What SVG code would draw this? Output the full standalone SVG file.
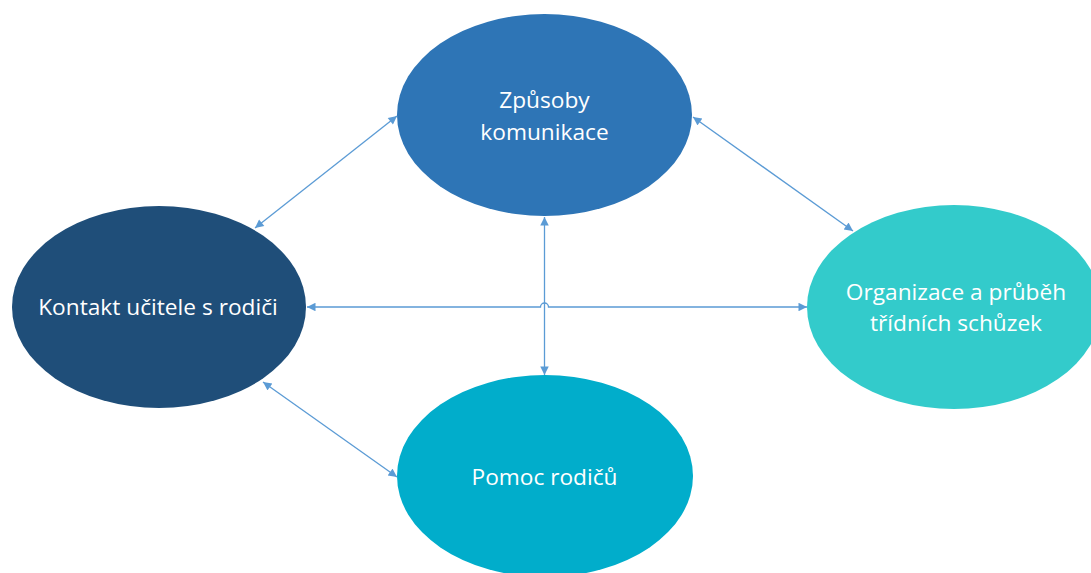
<svg xmlns="http://www.w3.org/2000/svg" width="1091" height="573" viewBox="0 0 1091 573">
<style>
.lbl{font-family:"Open Sans","Noto Sans","DejaVu Sans",sans-serif;font-size:22.7px;fill:#ffffff;text-anchor:middle}
.conn{fill:none;stroke:#5B9BD5;stroke-width:1.3}
</style>
<defs>
<marker id="ah" viewBox="0 0 10 10" refX="10" refY="5" markerWidth="10" markerHeight="8.5" markerUnits="userSpaceOnUse" orient="auto-start-reverse">
<path d="M0,0 L10,5 L0,10 z" fill="#5B9BD5"/>
</marker>
</defs>
<rect width="1091" height="573" fill="#ffffff"/>
<g id="n-top">
<ellipse cx="544.5" cy="115" rx="147.5" ry="101" fill="#2E75B6"/>
<text class="lbl" x="544.5" y="108">Způsoby</text>
<text class="lbl" x="544.5" y="140">komunikace</text>
</g>
<g id="n-left">
<ellipse cx="159" cy="307" rx="147" ry="101" fill="#1F4E79"/>
<text class="lbl" x="158" y="315">Kontakt učitele s rodiči</text>
</g>
<g id="n-right">
<ellipse cx="954" cy="307" rx="147" ry="102" fill="#33CBCB"/>
<text class="lbl" x="956" y="300">Organizace a průběh</text>
<text class="lbl" x="956" y="331">třídních schůzek</text>
</g>
<g id="n-bottom">
<ellipse cx="545" cy="476" rx="148" ry="101" fill="#01ADCB"/>
<text class="lbl" x="544.5" y="485">Pomoc rodičů</text>
</g>
<g id="connectors">
<line class="conn" x1="255" y1="228" x2="397" y2="116" marker-start="url(#ah)" marker-end="url(#ah)"/>
<line class="conn" x1="693" y1="117" x2="853" y2="231" marker-start="url(#ah)" marker-end="url(#ah)"/>
<line class="conn" x1="263" y1="382" x2="397" y2="477" marker-start="url(#ah)" marker-end="url(#ah)"/>
<line class="conn" x1="544.5" y1="217" x2="544.5" y2="375" marker-start="url(#ah)" marker-end="url(#ah)"/>
<path class="conn" d="M307,307 L540.5,307 A4,4 0 0 1 548.5,307 L807,307" marker-start="url(#ah)" marker-end="url(#ah)"/>
</g>
</svg>
